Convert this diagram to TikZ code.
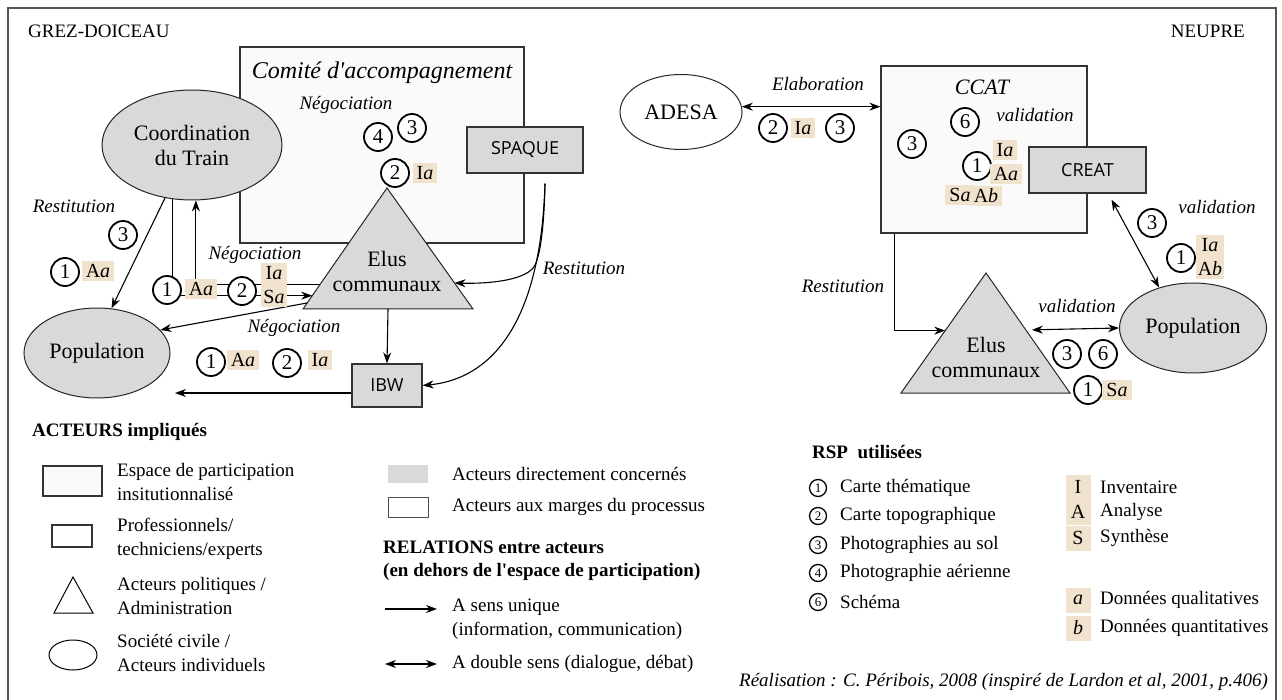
\documentclass[tikz,border=0pt]{standalone}
\usepackage{fontspec}
\setmainfont{Liberation Serif}[Ligatures=TeXOff]
\newfontfamily\labelsans{Open Sans}
\usetikzlibrary{shapes.geometric, arrows.meta, calc}

\definecolor{actgray}{RGB}{217,217,217}
\definecolor{tagbeige}{RGB}{240,226,204}
\definecolor{spacegray}{RGB}{250,250,250}
\definecolor{framegray}{RGB}{85,85,85}

\begin{document}
\begin{tikzpicture}[x=1pt, y=-1pt,
    actor/.style = {
        draw=black!85, fill=actgray, line width=1pt,
        font=\fontsize{22}{25}\selectfont, align=center, inner sep=0pt
    },
    pro/.style = {
        draw=black!80, fill=actgray, line width=1.2pt,
        font=\labelsans\fontsize{18}{20}\selectfont, inner sep=0pt
    },
    espace/.style = {draw=black!80, fill=spacegray, line width=1.2pt, inner sep=0pt},
    rsp/.style = {
        circle, draw, line width=1.8pt, fill=white, inner sep=0pt,
        minimum size=28pt, font=\fontsize{21}{21}\selectfont
    },
    rspkey/.style = {rsp, line width=1.3pt, minimum size=17pt, font=\fontsize{13}{13}\selectfont},
    tag/.style = {
        fill=tagbeige, inner xsep=4pt, inner ysep=3pt, align=center,
        font=\fontsize{20}{24}\selectfont
    },
    tagkey/.style = {tag, inner sep=0pt, minimum width=25pt, minimum height=25pt},
    rel/.style = {font=\fontsize{19}{22}\selectfont\itshape, inner sep=0pt},
    txt/.style = {font=\fontsize{19}{24}\selectfont, align=left, anchor=west, inner sep=0pt},
    heading/.style = {txt, font=\fontsize{19}{23}\selectfont\bfseries},
    arr/.style = {-{Stealth[length=11pt, width=8pt]}, line width=1.1pt},
    darr/.style = {{Stealth[length=11pt, width=8pt]}-{Stealth[length=11pt, width=8pt]}, line width=1.1pt},
]
\useasboundingbox (0,0) rectangle (1282,700);
\draw[framegray, line width=2.5pt] (8,8) rectangle (1276,712);

\node[txt] (grez) at (28,31) {GREZ-DOICEAU};
\node[txt, anchor=east] (neupre) at (1245,31) {NEUPRE};

%% ── GREZ-DOICEAU ────────────────────────────────────────────────────────
\node[espace, minimum width=284pt, minimum height=196pt] (comite) at (382,145) {};
\node[rel, font=\fontsize{24}{26}\selectfont\itshape] (comiteT) at (382,73) {Comité d'accompagnement};
\node[rel] (nego1) at (346,105) {Négociation};
\node[rsp] (c4a) at (378,137) {4};
\node[rsp] (c3a) at (412,128) {3};
\node[rsp] (c2a) at (395,173) {2};
\node[tag] (t2a) at (425,173) {I\textit{a}};

\node[pro, minimum width=116pt, minimum height=46pt] (spaque) at (525,150) {SPAQUE};
\node[actor, ellipse, minimum width=180pt, minimum height=110pt] (coord) at (192,145) {Coordination\\du Train};

% Elus communaux (triangle)
\coordinate (eA) at (387,188);
\coordinate (eL) at (303,309);
\coordinate (eR) at (473,309);
\filldraw[actor] (eL) -- (eA) -- (eR) -- cycle;
\node[font=\fontsize{22}{25}\selectfont, align=center, inner sep=0pt] (elusGtxt) at (387,271) {Elus\\communaux};
\coordinate (eIn1) at ($(eA)!0.89!(eL)$);
\coordinate (eIn2) at ($(eA)!0.80!(eL)$);
\coordinate (eOut) at ($(eA)!0.95!(eL)$);
\coordinate (eSp) at ($(eA)!0.785!(eR)$);
\coordinate (eB) at ($(eL)!0.5!(eR)$);

\node[pro, minimum width=70pt, minimum height=43pt] (ibw) at (387,385.5) {IBW};
\node[actor, ellipse, minimum width=146pt, minimum height=90pt] (popG) at (97,353) {Population};
\coordinate (ibwEnd) at (175,393);

% relations
\draw[arr] (coord.243) -- (popG.72);
\draw[arr] (coord.250) |- (eIn1);
\draw[arr] (eIn2) -| (coord.274);
\draw[arr] (eOut) -- (popG.20);
\draw[arr] (eB) -- (ibw.north);
\draw[arr] (ibw.west |- ibwEnd) -- (ibwEnd);
\draw[arr] ($(spaque.south)+(20,10)$) .. controls (544,230) and (540,255) .. (535,265)
    .. controls (528,280) and (490,284) .. (eSp);
\draw[arr] ($(spaque.south)+(20,10)$) .. controls (540,340) and (480,380) .. (ibw.east);

\node[rel] (restit1) at (74,206) {Restitution};
\node[rsp] (c3b) at (123,235) {3};
\node[rsp] (c1b) at (65,272) {1};
\node[tag] (t1b) at (98,271) {A\textit{a}};

\node[rel] (nego2) at (255,255) {Négociation};
\node[rsp] (c1c) at (167,290) {1};
\node[tag] (t1c) at (201,289) {A\textit{a}};
\node[rsp] (c2c) at (242,291) {2};
\node[tag, inner xsep=2pt] (t2c) at (274,285) {I\textit{a}\\S\textit{a}};

\node[rel] (nego3) at (294,328) {Négociation};
\node[rsp] (c1d) at (211,362) {1};
\node[tag] (t1d) at (243,360) {A\textit{a}};
\node[rsp] (c2d) at (287,363) {2};
\node[tag] (t2d) at (320,360) {I\textit{a}};

\node[rel] (restit2) at (584,268) {Restitution};

%% ── NEUPRE ──────────────────────────────────────────────────────────────
\node[actor, ellipse, fill=white, minimum width=122pt, minimum height=75pt] (adesa) at (681,112) {ADESA};
\node[espace, minimum width=206pt, minimum height=167pt] (ccat) at (984,149.5) {};
\node[rel, font=\fontsize{22}{24}\selectfont\itshape] (ccatT) at (982,87) {CCAT};
\node[pro, minimum width=117pt, minimum height=46pt] (creat) at (1087.5,170) {CREAT};

\node[rel] (valid1) at (1035,115) {validation};
\node[rsp] (c6f) at (965,122) {6};
\node[rsp] (c3f) at (912,144) {3};
\node[rsp] (c1f) at (977,166) {1};
\node[tag] (tIaf) at (1005,150) {I\textit{a}};
\node[tag] (tAaf) at (1006,174) {A\textit{a}};
\node[tag] (tSaf) at (960,195) {S\textit{a}};
\node[tag] (tAbf) at (986,196) {A\textit{b}};

\draw[darr] (adesa.5) -- (adesa.5 -| ccat.west);
\node[rel] (elab) at (818,84) {Elaboration};
\node[rsp] (c2e) at (773,128) {2};
\node[tag] (t2e) at (803,128) {I\textit{a}};
\node[rsp] (c3e) at (840,128) {3};

% Elus communaux (triangle)
\coordinate (nA) at (986,273);
\coordinate (nL) at (901,393);
\coordinate (nR) at (1070,393);
\filldraw[actor] (nL) -- (nA) -- (nR) -- cycle;
\node[font=\fontsize{22}{25}\selectfont, align=center, inner sep=0pt] (elusNtxt) at (986,357) {Elus\\communaux};
\coordinate (nIn) at ($(nA)!0.48!(nL)$);
\coordinate (nOut) at ($(nA)!0.475!(nR)$);

\node[actor, ellipse, minimum width=147pt, minimum height=90pt] (popN) at (1193,328) {Population};

\draw[arr] ($(ccat.south west)+(14,0)$) |- (nIn);
\node[rel] (restit3) at (843,286) {Restitution};

\draw[darr, shorten <=6pt] (nOut) -- (popN.west);
\node[rel] (valid2) at (1077,306) {validation};
\node[rsp] (c3g) at (1067,354) {3};
\node[rsp] (c6g) at (1103,354) {6};
\node[rsp] (c1g) at (1088,390) {1};
\node[tag] (tSag) at (1117,390) {S\textit{a}};

\draw[darr] ($(creat.south)+(24,6)$) -- (popN.130);
\node[rel] (valid3) at (1217,207) {validation};
\node[rsp] (c3h) at (1152,223) {3};
\node[rsp] (c1h) at (1181,258) {1};
\node[tag, inner xsep=2pt] (tIaAbh) at (1210,257) {I\textit{a}\\A\textit{b}};

%% ── Legend: actors ──────────────────────────────────────────────────────
\node[heading] (acteursT) at (32,432) {ACTEURS impliqués};
\node[espace, minimum width=59pt, minimum height=30pt] (lgSpace) at (72.5,481) {};
\node[txt] (lgSpaceT) at (117,482) {Espace de participation\\insitutionnalisé};
\node[espace, fill=white, minimum width=40pt, minimum height=22pt] (lgPro) at (72,536) {};
\node[txt] (lgProT) at (117,538.5) {Professionnels/\\techniciens/experts};
\draw[line width=1pt] (54,613) -- (73,577) -- (93,613) -- cycle;
\node[txt] (lgPolT) at (117,596) {Acteurs politiques /\\Administration};
\node[ellipse, draw, line width=1pt, inner sep=0pt, minimum width=48pt, minimum height=30pt] (lgCiv) at (73,655) {};
\node[txt] (lgCivT) at (117,652.5) {Société civile /\\Acteurs individuels};

\node[fill=actgray, inner sep=0pt, minimum width=40pt, minimum height=18pt] (lgDir) at (408,474) {};
\node[txt] (lgDirT) at (452,474) {Acteurs directement concernés};
\node[draw=black!70, line width=0.8pt, inner sep=0pt, minimum width=40pt, minimum height=20pt] (lgMarg) at (408,507) {};
\node[txt] (lgMargT) at (452,507) {Acteurs aux marges du processus};

%% ── Legend: relations ───────────────────────────────────────────────────
\node[heading] (relT) at (383,560.5) {RELATIONS entre acteurs\\(en dehors de l'espace de participation)};
\coordinate (u1) at (385,609);
\coordinate (u2) at (437,609);
\draw[arr] (u1) -- (u2);
\node[txt] (uniT) at (452,619.5) {A sens unique\\(information, communication)};
\coordinate (d1) at (385,664);
\coordinate (d2) at (437,664);
\draw[darr] (d1) -- (d2);
\node[txt] (dblT) at (452,664) {A double sens (dialogue, débat)};

%% ── Legend: RSP ─────────────────────────────────────────────────────────
\node[heading] (rspT) at (812,452) {RSP\ \ utilisées};
\node[rspkey] (k1) at (818,488) {1};
\node[txt] (k1T) at (840,488) {Carte thématique};
\node[rspkey] (k2) at (818,516) {2};
\node[txt] (k2T) at (840,516) {Carte topographique};
\node[rspkey] (k3) at (818,545) {3};
\node[txt] (k3T) at (840,545) {Photographies au sol};
\node[rspkey] (k4) at (818,573) {4};
\node[txt] (k4T) at (840,573) {Photographie aérienne};
\node[rspkey] (k6) at (818,602) {6};
\node[txt] (k6T) at (840,602) {Schéma};

\node[tagkey] (kI) at (1078,487) {I};
\node[txt] (kIT) at (1100,487) {Inventaire};
\node[tagkey] (kA) at (1078,512) {A};
\node[txt] (kAT) at (1100,512) {Analyse};
\node[tagkey] (kS) at (1078,538) {S};
\node[txt] (kST) at (1100,538) {Synthèse};
\node[tagkey] (ka) at (1078,600) {\textit{a}};
\node[txt] (kaT) at (1100,600) {Données qualitatives};
\node[tagkey] (kb) at (1078,628) {\textit{b}};
\node[txt] (kbT) at (1100,628) {Données quantitatives};

\node[rel, anchor=east] (credit) at (1268,682) {Réalisation : C. Péribois, 2008 (inspiré de Lardon et al, 2001, p.406)};

\end{tikzpicture}
\end{document}
